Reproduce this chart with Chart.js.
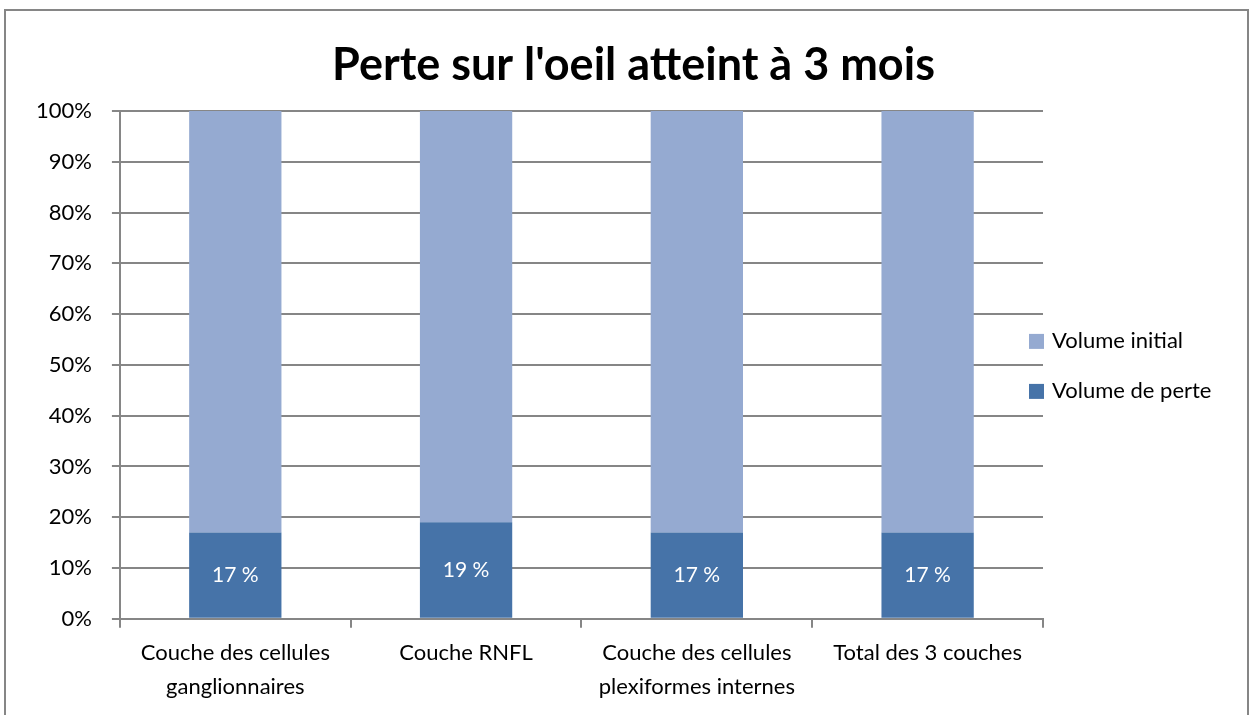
<!DOCTYPE html>
<html lang="fr">

<head>
    <meta charset="UTF-8">
    <title>Perte sur l'oeil atteint à 3 mois</title>
    <style>
        body { margin: 0; background: #fff; }
        #frame {
            position: absolute; left: 4px; top: 9px;
            width: 1241px; height: 720px;
            border: 2px solid #868686;
        }
        #wrap { position: absolute; left: 0; top: 0; width: 1249px; height: 715px; }
    </style>
</head>

<body>
    <div id="frame"></div>
    <div id="wrap"><canvas id="perteChart" width="1249" height="715"></canvas></div>
</body>

<script src="https://cdn.jsdelivr.net/npm/chart.js"></script>

<script>
    const chartTitle = "Perte sur l'oeil atteint à 3 mois";
    const categories = [
        ['Couche des cellules', 'ganglionnaires'],
        'Couche RNFL',
        ['Couche des cellules', 'plexiformes internes'],
        'Total des 3 couches'
    ];
    const volumePerte = [17, 19, 17, 17];
    const volumeInitial = [83, 81, 83, 83];
    const yTicks = [0, 10, 20, 30, 40, 50, 60, 70, 80, 90, 100];

    const FONT = "Lato, 'Open Sans', sans-serif";
    const GRID = '#868686';

    // title centred on the whole frame, not only on the plot
    const frameTitle = {
        id: 'frameTitle',
        afterDraw(chart) {
            const ctx = chart.ctx;
            ctx.save();
            ctx.fillStyle = '#000';
            ctx.font = 'bold 45px ' + FONT;
            ctx.textAlign = 'center';
            ctx.textBaseline = 'alphabetic';
            ctx.fillText(chartTitle, chart.width / 2 + 9, 80);
            ctx.restore();
        }
    };

    // white "17 %" labels in the middle of the loss segment
    const valueLabels = {
        id: 'valueLabels',
        afterDatasetsDraw(chart) {
            const ctx = chart.ctx;
            const meta = chart.getDatasetMeta(0);
            ctx.save();
            ctx.fillStyle = '#ffffff';
            ctx.font = '21px ' + FONT;
            ctx.textAlign = 'center';
            ctx.textBaseline = 'middle';
            meta.data.forEach((bar, i) => {
                const mid = (bar.y + bar.base) / 2;
                ctx.fillText(volumePerte[i] + ' %', bar.x, mid);
            });
            ctx.restore();
        }
    };

    // legend on the right, top item = last dataset, tucked against the plot edge
    const sideLegend = {
        id: 'sideLegend',
        afterDraw(chart) {
            const ctx = chart.ctx;
            const area = chart.chartArea;
            const sets = chart.data.datasets.slice().reverse();
            const mid = (area.top + area.bottom) / 2 + 1;
            const step = 50;
            ctx.save();
            ctx.font = '22px ' + FONT;
            ctx.textBaseline = 'middle';
            ctx.textAlign = 'left';
            sets.forEach((ds, i) => {
                const y = mid + (i - (sets.length - 1) / 2) * step;
                const x = area.right - 14;
                ctx.fillStyle = ds.backgroundColor;
                ctx.fillRect(x, y - 7, 15, 15);
                ctx.fillStyle = '#000';
                ctx.fillText(ds.label, x + 23, y);
            });
            ctx.restore();
        }
    };

    const ctx = document.getElementById('perteChart').getContext('2d');
    const chart = new Chart(ctx, {
        type: 'bar',
        data: {
            labels: categories,
            datasets: [{
                label: 'Volume de perte',
                data: volumePerte,
                backgroundColor: '#4673A8',
                categoryPercentage: 1,
                barPercentage: 0.4
            }, {
                label: 'Volume initial',
                data: volumeInitial,
                backgroundColor: '#95AAD1',
                categoryPercentage: 1,
                barPercentage: 0.4
            }]
        },
        options: {
            responsive: false,
            animation: false,
            layout: { padding: { left: 16, right: 206, top: 111, bottom: 3 } },
            plugins: {
                legend: { display: false },
                tooltip: { enabled: false }
            },
            scales: {
                x: {
                    stacked: true,
                    grid: {
                        offset: true,
                        drawOnChartArea: false,
                        color: GRID,
                        lineWidth: 2,
                        tickLength: 9
                    },
                    border: { color: GRID, width: 2 },
                    ticks: {
                        color: '#000',
                        font: { family: FONT, size: 22, lineHeight: 1.55 },
                        maxRotation: 0,
                        padding: 8
                    }
                },
                y: {
                    stacked: true,
                    min: 0,
                    max: 100,
                    afterBuildTicks: axis => { axis.ticks = yTicks.map(v => ({ value: v })); },
                    grid: { color: GRID, lineWidth: 2, tickLength: 8 },
                    border: { color: GRID, width: 2 },
                    ticks: {
                        color: '#000',
                        font: { family: FONT, size: 22 },
                        padding: 20,
                        callback: v => v + '%'
                    }
                }
            }
        },
        plugins: [valueLabels, sideLegend, frameTitle]
    });
</script>

</html>
